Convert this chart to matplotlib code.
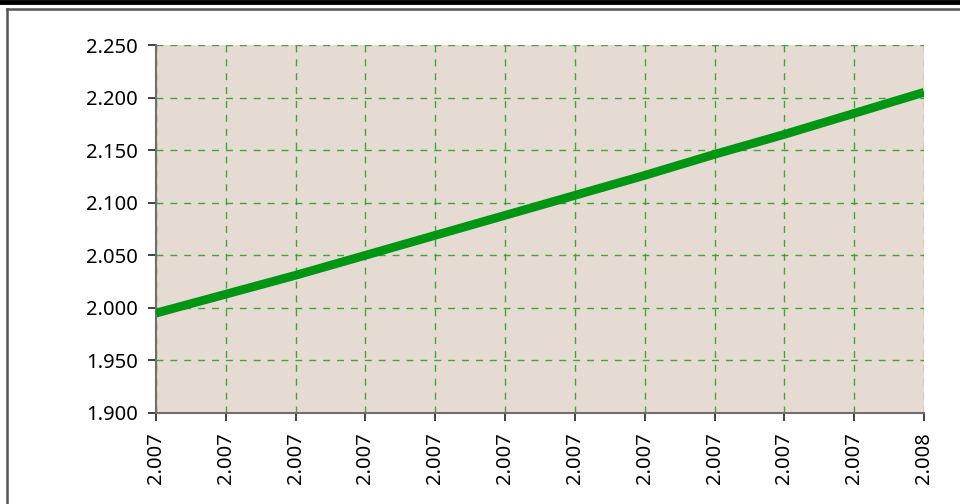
import matplotlib.pyplot as plt
from matplotlib.lines import Line2D

plt.rcParams['font.family'] = ['Noto Sans', 'DejaVu Sans']

x_values = [0, 1, 2, 3, 4, 5, 6, 7, 8, 9, 10, 11]
x_labels = ['2.007', '2.007', '2.007', '2.007', '2.007', '2.007',
            '2.007', '2.007', '2.007', '2.007', '2.007', '2.008']
y_values = [1.995, 2.013, 2.031, 2.050, 2.069, 2.088,
            2.107, 2.126, 2.146, 2.165, 2.185, 2.205]
y_ticks = [1.900, 1.950, 2.000, 2.050, 2.100, 2.150, 2.200, 2.250]

fig = plt.figure(figsize=(9.6, 5.04), dpi=100)
ax = fig.add_axes([156 / 960, 1 - 413 / 504, 768 / 960, 368 / 504])
ax.set_facecolor('#e6dbd2')

ax.plot(x_values, y_values, color='#009614', linewidth=6.3, solid_capstyle='butt', zorder=3)

ax.set_xlim(x_values[0], x_values[-1])
ax.set_ylim(1.900, 2.250)
ax.set_xticks(x_values)
ax.set_xticklabels(x_labels, rotation=90)
ax.set_yticks(y_ticks)
ax.set_yticklabels(['%.3f' % v for v in y_ticks])

ax.grid(True, color='#2ca02c', linestyle=(0, (5, 5)), linewidth=1, alpha=0.9)
ax.set_axisbelow(True)

for side in ['top', 'right']:
    ax.spines[side].set_visible(False)
for side in ['left', 'bottom']:
    ax.spines[side].set_color('#6e6e6e')
    ax.spines[side].set_linewidth(1.5)

ax.tick_params(axis='both', colors='#222222', labelcolor='black', labelsize=14.5,
               direction='out', length=6, width=1.2)
ax.tick_params(axis='x', pad=8)
ax.tick_params(axis='y', pad=7)

# outer frame of the panel
fig.add_artist(Line2D([0, 1], [1 - 2 / 504, 1 - 2 / 504], color='black', linewidth=3.5,
                      transform=fig.transFigure))
fig.add_artist(Line2D([7 / 960, 1], [1 - 9 / 504, 1 - 9 / 504], color='#555555', linewidth=1.8,
                      transform=fig.transFigure))
fig.add_artist(Line2D([7 / 960, 7 / 960], [0, 1 - 9 / 504], color='#555555', linewidth=1.8,
                      transform=fig.transFigure))

fig.savefig('out.png', dpi=100)
